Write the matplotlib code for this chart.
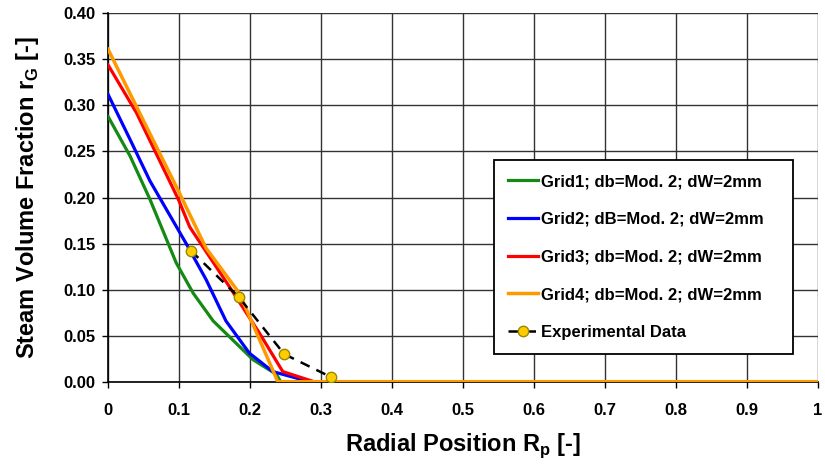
import numpy as np
import matplotlib
matplotlib.use("Agg")
import matplotlib.pyplot as plt
from matplotlib.ticker import FuncFormatter

plt.rcParams['font.family'] = ['Liberation Sans', 'DejaVu Sans']
plt.rcParams['font.weight'] = 'bold'

# values
grid1_x = [0.0, 0.031, 0.059, 0.096, 0.120, 0.148, 0.180, 0.204, 0.237, 0.243, 1.0]
grid1_y = [0.288, 0.245, 0.198, 0.129, 0.096, 0.066, 0.042, 0.024, 0.008, 0.0, 0.0]

grid2_x = [0.0, 0.031, 0.059, 0.110, 0.138, 0.166, 0.199, 0.232, 0.265, 0.28, 1.0]
grid2_y = [0.312, 0.263, 0.218, 0.150, 0.111, 0.066, 0.031, 0.011, 0.004, 0.0, 0.0]

grid3_x = [0.0, 0.040, 0.099, 0.115, 0.171, 0.213, 0.246, 0.274, 0.29, 1.0]
grid3_y = [0.344, 0.292, 0.198, 0.168, 0.103, 0.053, 0.011, 0.004, 0.0, 0.0]

grid4_x = [0.0, 0.054, 0.096, 0.138, 0.185, 0.239, 1.0]
grid4_y = [0.361, 0.277, 0.212, 0.145, 0.096, 0.0, 0.0]

exp_x = [0.117, 0.184, 0.248, 0.314]
exp_y = [0.142, 0.092, 0.030, 0.005]

labels = ["Grid1; db=Mod. 2; dW=2mm",
          "Grid2; dB=Mod. 2; dW=2mm",
          "Grid3; db=Mod. 2; dW=2mm",
          "Grid4; db=Mod. 2; dW=2mm",
          "Experimental Data"]

fig = plt.figure(figsize=(8.25, 4.71), dpi=100)
ax = fig.add_axes([0.131, 0.1896, 0.8606, 0.782])

ax.plot(grid1_x, grid1_y, color="#138a13", lw=2.3, label=labels[0], zorder=3)
ax.plot(grid2_x, grid2_y, color="#0000ff", lw=2.3, label=labels[1], zorder=3)
ax.plot(grid3_x, grid3_y, color="#ff0000", lw=2.3, label=labels[2], zorder=3)
ax.plot(grid4_x, grid4_y, color="#ff9900", lw=2.5, label=labels[3], zorder=4)
ax.plot(exp_x, exp_y, color="black", ls=(0, (4, 3)), lw=1.8, marker="o",
        markersize=7.5, markerfacecolor="#ffcc00", markeredgecolor="#998800",
        label=labels[4], zorder=5)

ax.set_xlim(0, 1)
ax.set_ylim(0, 0.40)
ax.set_xticks(np.arange(0, 1.01, 0.1))
ax.set_yticks(np.arange(0, 0.401, 0.05))
ax.xaxis.set_major_formatter(FuncFormatter(lambda v, p: "0" if v == 0 else ("1" if abs(v - 1) < 1e-9 else f"{v:.1f}")))
ax.yaxis.set_major_formatter(FuncFormatter(lambda v, p: f"{v:.2f}"))
ax.tick_params(axis="both", labelsize=12, length=4, width=1, direction="out")
ax.tick_params(axis="x", pad=11)
ax.tick_params(axis="y", pad=5)

ax.grid(True, color="#333333", lw=1.0)
for s in ["top", "right"]:
    ax.spines[s].set_visible(False)
ax.spines["left"].set_linewidth(1.2)
ax.spines["bottom"].set_linewidth(1.2)

ax.set_xlabel(r"Radial Position R$_\mathregular{p}$ [-]", fontsize=17, fontweight="bold", labelpad=10)
ax.set_ylabel(r"Steam Volume Fraction r$_\mathregular{G}$ [-]", fontsize=17, fontweight="bold", labelpad=16)

# legend box placed where the reference has it
leg = ax.legend(loc="upper left", bbox_to_anchor=(0.544, 0.075, 0.421, 0.527), mode="expand",
                borderaxespad=0, fontsize=12, fancybox=False, framealpha=1, edgecolor="black",
                handlelength=1.8, handletextpad=0.15, labelspacing=1.36,
                borderpad=0.85)
leg.get_frame().set_linewidth(1.3)
for t in leg.get_texts():
    t.set_fontweight("bold")

fig.savefig("out.png", dpi=100)
